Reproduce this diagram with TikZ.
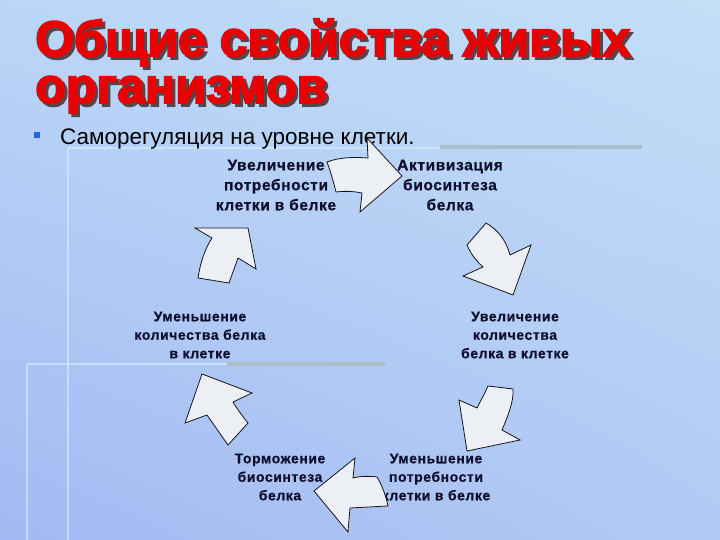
\documentclass[tikz,border=0pt]{standalone}
\usepackage{fontspec}
\setmainfont{Liberation Sans}
\newfontfamily\titlefont{Liberation Sans Bold}[FakeBold=3.2]
\newfontfamily\labelfont{Liberation Sans Bold}[LetterSpace=4,FakeBold=0.6]
\definecolor{titleRed}{RGB}{232,0,0}
\definecolor{titleShadow}{RGB}{85,70,75}
\definecolor{lightLine}{RGB}{220,240,252}
\definecolor{greyBar}{RGB}{172,190,202}
\definecolor{bulletBlue}{RGB}{30,100,230}
\definecolor{labelInk}{RGB}{15,15,45}
\definecolor{arrowFill}{RGB}{236,240,244}
\definecolor{arrowInk}{RGB}{20,20,30}
\pgfdeclarefunctionalshading{bgshade}{\pgfpoint{0bp}{0bp}}{\pgfpoint{100bp}{100bp}}{}{
  100 div exch 100 div exch
  2 copy
  dup 0.2196 mul 0.5490 add exch -0.1176 mul 0.1569 add 3 -1 roll mul add
  3 1 roll
  2 copy
  dup 0.2667 mul 0.6275 add exch -0.1412 mul 0.1647 add 3 -1 roll mul add
  3 1 roll
  dup 0.0314 mul 0.9412 add exch 0.0 mul 0.0078 add 3 -1 roll mul add
}
\tikzset{
  titletext/.style={anchor=base west, inner sep=0pt, font=\titlefont\fontsize{50}{50}\selectfont},
  label/.style={align=center, text=labelInk, inner sep=0pt, font=\labelfont\fontsize{14}{18.5}\selectfont},
  biglabel/.style={label, font=\labelfont\fontsize{15.5}{20}\selectfont},
  blockarrow/.style={fill=arrowFill, draw=arrowInk, line width=0.8pt, line join=miter},
  deco/.style={draw=lightLine, draw opacity=0.6, line width=1.6pt},
  greybar/.style={draw=greyBar, line width=3.5pt}
}
\begin{document}
\begin{tikzpicture}[x=1pt,y=-1pt]
\useasboundingbox (0,0) rectangle (720,540);
% background
\fill[shading=bgshade] (0,0) rectangle (720,540);
% decorative lines
\draw[deco] (68,148) -- (68,540);
\draw[deco] (68,148) -- (440,148);
\draw[greybar] (440,147) -- (642,147);
\draw[deco] (27,364) -- (27,540);
\draw[deco] (27,364) -- (227,364);
\draw[greybar] (227,364) -- (385,364);
% title
\node[titletext, text=titleShadow] (t1s) at (38,59) {Общие свойства живых};
\node[titletext, text=titleRed] (t1) at (35,56) {Общие свойства живых};
\node[titletext, text=titleShadow] (t2s) at (38,106) {организмов};
\node[titletext, text=titleRed] (t2) at (35,103) {организмов};
% bullet
\fill[bulletBlue] (34,132) rectangle (40,138);
\node[anchor=base west, inner sep=0pt, font=\fontsize{22.5}{24}\selectfont] (sub) at (60,145) {Саморегуляция на уровне клетки.};
% labels
\node[biglabel] (l1) at (276,185) {Увеличение\\потребности\\клетки в белке};
\node[biglabel] (l2) at (450,185) {Активизация\\биосинтеза\\белка};
\node[label] (l3) at (200,335) {Уменьшение\\количества белка\\в клетке};
\node[label] (l4) at (515,335) {Увеличение\\количества\\белка в клетке};
\node[label] (l5) at (280,477) {Торможение\\биосинтеза\\белка};
\node[label] (l6) at (436,477) {Уменьшение\\потребности\\клетки в белке};
% arrows
\draw[blockarrow] (327,162) .. controls (340,157) and (355,157) .. (368,158) -- (367,138) -- (402,176) -- (360,212) -- (362,193) .. controls (352,191) and (344,191) .. (336,192) .. controls (333,180) and (330,170) .. cycle;
\draw[blockarrow] (486,223) .. controls (498,230) and (506,240) .. (510,255) -- (531,245) -- (513,295) -- (463,276) -- (483,267) .. controls (475,260) and (470,252) .. (467,245) -- cycle;
\draw[blockarrow] (488,386) -- (513,389) .. controls (514,402) and (507,418) .. (502,430) -- (520,440) -- (467,451) -- (459,400) -- (477,408) .. controls (481,400) and (485,393) .. cycle;
\draw[blockarrow] (355,458) -- (353,478) .. controls (360,476) and (370,476) .. (377,477) .. controls (383,487) and (386,497) .. (388,506) -- (350,508) -- (348,532) -- (314,491) -- cycle;
\draw[blockarrow] (202,374) -- (252,393) -- (233,402) .. controls (238,410) and (243,417) .. (248,423) -- (228,445) -- (207,415) -- (185,423) -- cycle;
\draw[blockarrow] (248,228) -- (256,269) -- (238,258) -- (229,283) -- (198,278) .. controls (200,265) and (204,250) .. (212,238) -- (195,228) -- cycle;
\end{tikzpicture}
\end{document}
